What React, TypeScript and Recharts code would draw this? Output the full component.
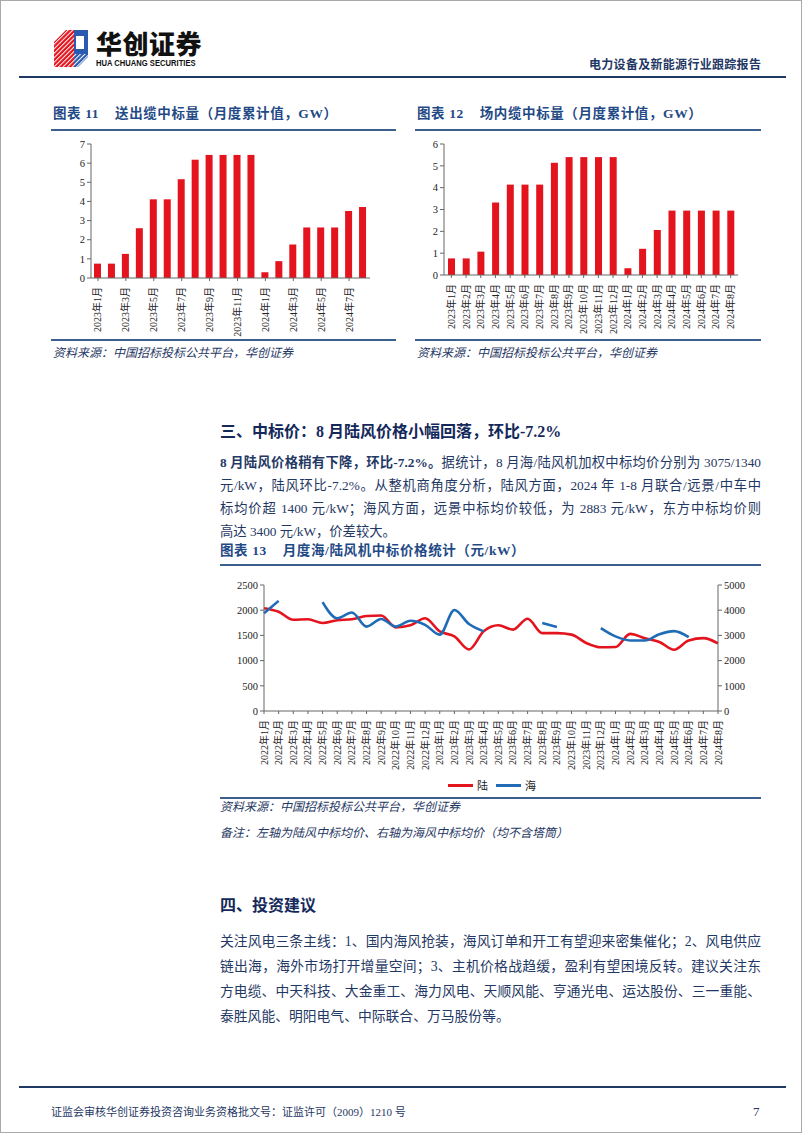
import React from 'react';
import { BarChart, Bar, LineChart, Line, XAxis, YAxis, Legend } from 'recharts';

const months11 = ['2023年1月','2023年2月','2023年3月','2023年4月','2023年5月','2023年6月','2023年7月','2023年8月','2023年9月','2023年10月','2023年11月','2023年12月','2024年1月','2024年2月','2024年3月','2024年4月','2024年5月','2024年6月','2024年7月','2024年8月'];
const exportCable = [0.75,0.75,1.26,2.6,4.11,4.11,5.16,6.18,6.43,6.43,6.43,6.43,0.3,0.88,1.75,2.64,2.64,2.64,3.5,3.71];
const arrayCable = [0.76,0.76,1.07,3.32,4.14,4.14,4.14,5.14,5.4,5.4,5.4,5.4,0.31,1.2,2.06,2.95,2.95,2.95,2.95,2.95];
const ticks11 = [0,1,2,3,4,5,6,7];
const ticks12 = [0,1,2,3,4,5,6];

const months13 = ['2022年1月','2022年2月','2022年3月','2022年4月','2022年5月','2022年6月','2022年7月','2022年8月','2022年9月','2022年10月','2022年11月','2022年12月','2023年1月','2023年2月','2023年3月','2023年4月','2023年5月','2023年6月','2023年7月','2023年8月','2023年9月','2023年10月','2023年11月','2023年12月','2024年1月','2024年2月','2024年3月','2024年4月','2024年5月','2024年6月','2024年7月','2024年8月'];
const onshore = [2040,1970,1810,1820,1745,1800,1820,1885,1895,1660,1700,1840,1580,1480,1220,1580,1700,1615,1830,1545,1545,1515,1350,1265,1270,1530,1445,1370,1215,1400,1445,1340];
const offshore: (number | null)[] = [3880,4370,null,null,4320,3680,3910,3350,3650,3350,3580,3420,3030,4010,3450,3160,null,null,null,3490,3330,null,null,3290,2960,2800,2800,3050,3170,2930,null,null];
const leftTicks13 = [0,500,1000,1500,2000,2500];
const rightTicks13 = [0,500,1000,1500,2000,2500,3000,3500,4000,4500,5000];
const seriesNames = ['陆','海'];

const RED = '#e3141d';
const BLUE = '#1f6bb5';
const NAVY = '#1f3864';
const TITLE = '#1f4a86';
const RULE = '#3d5f8e';
const FONT = '"Liberation Serif", "Noto Sans CJK SC", serif';

const data11 = months11.map((m, i) => ({ m, v: exportCable[i] }));
const data12 = months11.map((m, i) => ({ m, v: arrayCable[i] }));
const data13 = months13.map((m, i) => ({ m, on: onshore[i], off: offshore[i] }));

const RotTick = (props: any) => {
  const { x, y, payload } = props;
  return (
    <text x={x} y={y + 4} transform={`rotate(-90, ${x}, ${y + 4})`} textAnchor="end" dominantBaseline="central"
      fontSize={10} fontFamily={FONT} fill="#222">{payload.value}</text>
  );
};

const axisStyle = { stroke: '#666' };
const tickStyle = { fontSize: 10.5, fontFamily: FONT, fill: '#222' };

const abs = (left: number, top: number, extra: React.CSSProperties = {}): React.CSSProperties => ({
  position: 'absolute', left, top, ...extra,
});

const Logo = () => (
  <svg width={36} height={37} style={abs(53, 29)} viewBox="0 0 36 37">
    <defs>
      <pattern id="rs" width="3.2" height="3.2" patternUnits="userSpaceOnUse" patternTransform="rotate(45)">
        <rect width="3.2" height="3.2" fill="#e3141d" />
        <rect width="1" height="3.2" fill="#fff" />
      </pattern>
      <pattern id="bs" width="3.2" height="3.2" patternUnits="userSpaceOnUse" patternTransform="rotate(45)">
        <rect width="3.2" height="3.2" fill="#2a5bb0" />
        <rect width="1" height="3.2" fill="#fff" />
      </pattern>
    </defs>
    <polygon points="0,12 12,0 20,0 20,37 0,37" fill="url(#rs)" />
    <polygon points="20,0 34,0 34,24 20,24" fill="#2a5bb0" />
    <polygon points="20,24 34,24 34,27 24,37 20,37" fill="url(#bs)" />
    <rect x="22" y="6" width="8" height="13" fill="#fff" />
  </svg>
);

const lineStyle = (top: number, lines: React.ReactNode[], lh: number, fs: number) => (
  <div style={abs(219, top, { width: 541, fontFamily: FONT, fontSize: fs, lineHeight: `${lh}px`, color: NAVY })}>
    {lines.map((l, i) => (
      <div key={i} style={{ textAlign: 'justify', textAlignLast: i === lines.length - 1 ? 'left' : 'justify', height: lh, whiteSpace: 'nowrap' }}>{l}</div>
    ))}
  </div>
);

const titleStyle: React.CSSProperties = { fontFamily: FONT, fontWeight: 700, fontSize: 13.5, lineHeight: '18px', color: TITLE, whiteSpace: 'pre', letterSpacing: 0.6 };
const srcStyle: React.CSSProperties = { fontStyle: 'italic', fontSize: 12, lineHeight: '16px', color: NAVY };

export default function App() {
  return (
    <div style={{ position: 'absolute', left: 0, top: 0, width: 802, height: 1133, background: '#fff', border: '1px solid #aaa', boxSizing: 'border-box', overflow: 'hidden', fontFamily: FONT }}>
      <Logo />
      <div style={abs(95, 27, { fontFamily: '"Noto Sans CJK SC", sans-serif', fontWeight: 900, fontSize: 26, lineHeight: '30px', color: '#111', letterSpacing: 0.5 })}>华创证券</div>
      <div style={abs(95, 58, { fontFamily: '"Liberation Sans", sans-serif', fontWeight: 700, fontSize: 8.2, lineHeight: '10px', color: '#111', transform: 'scaleX(0.93)', transformOrigin: 'left' })}>HUA CHUANG SECURITIES</div>
      <div style={abs(588, 55, { fontFamily: '"Noto Sans CJK SC", sans-serif', fontWeight: 700, fontSize: 12, lineHeight: '16px', color: NAVY, letterSpacing: 0.3 })}>电力设备及新能源行业跟踪报告</div>
      <div style={abs(18, 75, { width: 767, height: 2, background: NAVY })} />

      {/* Chart 11 */}
      <div style={abs(52, 104, titleStyle)}>{'图表 11    送出缆中标量（月度累计值，GW）'}</div>
      <div style={abs(50, 128, { width: 345, height: 2, background: RULE })} />
      <div style={abs(40, 133)}>
        <BarChart width={335} height={205} data={data11} margin={{ top: 10, right: 6, bottom: 0, left: 0 }} barSize={7}>
          <XAxis dataKey="m" interval={1} tick={<RotTick />} height={61} axisLine={axisStyle} tickLine={{ stroke: '#666' }} tickSize={3} />
          <YAxis domain={[0, 7]} ticks={ticks11} width={50} axisLine={axisStyle} tickLine={{ stroke: '#666' }} tickSize={4} tick={tickStyle} />
          <Bar dataKey="v" fill={RED} isAnimationActive={false} />
        </BarChart>
      </div>
      <div style={abs(50, 338, { width: 345, height: 2, background: RULE })} />
      <div style={abs(52, 344, srcStyle)}>资料来源：中国招标投标公共平台，华创证券</div>

      {/* Chart 12 */}
      <div style={abs(416, 104, titleStyle)}>{'图表 12    场内缆中标量（月度累计值，GW）'}</div>
      <div style={abs(414, 128, { width: 346, height: 2, background: RULE })} />
      <div style={abs(393, 133)}>
        <BarChart width={350} height={204} data={data12} margin={{ top: 10, right: 6, bottom: 0, left: 0 }} barSize={7}>
          <XAxis dataKey="m" interval={0} tick={<RotTick />} height={63} axisLine={axisStyle} tickLine={{ stroke: '#666' }} tickSize={3} />
          <YAxis domain={[0, 6]} ticks={ticks12} width={50} axisLine={axisStyle} tickLine={{ stroke: '#666' }} tickSize={4} tick={tickStyle} />
          <Bar dataKey="v" fill={RED} isAnimationActive={false} />
        </BarChart>
      </div>
      <div style={abs(414, 338, { width: 346, height: 2, background: RULE })} />
      <div style={abs(416, 344, srcStyle)}>资料来源：中国招标投标公共平台，华创证券</div>

      {/* Section 3 */}
      <div style={abs(219, 420, { fontWeight: 700, fontSize: 16, lineHeight: '22px', color: '#14295a' })}>三、中标价：8 月陆风价格小幅回落，环比-7.2%</div>
      {lineStyle(449.5, [
        <><b>8 月陆风价格稍有下降，环比-7.2%。</b>据统计，8 月海/陆风机加权中标均价分别为 3075/1340</>,
        '元/kW，陆风环比-7.2%。从整机商角度分析，陆风方面，2024 年 1-8 月联合/远景/中车中',
        '标均价超 1400 元/kW；海风方面，远景中标均价较低，为 2883 元/kW，东方中标均价则',
        '高达 3400 元/kW，价差较大。',
      ], 23, 13.3)}

      {/* Chart 13 */}
      <div style={abs(219, 541, titleStyle)}>{'图表 13    月度海/陆风机中标价格统计（元/kW）'}</div>
      <div style={abs(219, 563, { width: 541, height: 2, background: RULE })} />
      <div style={abs(213, 574)}>
        <LineChart width={550} height={226} data={data13} margin={{ top: 10, right: 0, bottom: 0, left: 0 }}>
          <XAxis dataKey="m" interval={0} tick={<RotTick />} height={66} axisLine={axisStyle} tickLine={{ stroke: '#666' }} tickSize={3} />
          <YAxis yAxisId="l" domain={[0, 2500]} ticks={leftTicks13} width={50} axisLine={axisStyle} tickLine={{ stroke: '#666' }} tickSize={4} tick={tickStyle} />
          <YAxis yAxisId="r" orientation="right" domain={[0, 5000]} ticks={rightTicks13} width={46} axisLine={axisStyle} tickLine={{ stroke: '#666' }} tickSize={4} tick={tickStyle} />
          <Line yAxisId="l" type="monotone" dataKey="on" name={seriesNames[0]} stroke={RED} strokeWidth={2.6} dot={false} isAnimationActive={false} />
          <Line yAxisId="r" type="monotone" dataKey="off" name={seriesNames[1]} stroke={BLUE} strokeWidth={2.6} dot={false} connectNulls={false} isAnimationActive={false} />
          <Legend verticalAlign="bottom" height={24} content={() => (
            <div style={{ display: 'flex', justifyContent: 'center', alignItems: 'center', fontFamily: FONT, fontSize: 11, color: '#222', paddingLeft: 6 }}>
              <span style={{ display: 'inline-block', width: 25, height: 3, background: RED, marginRight: 4 }} />
              <span style={{ marginRight: 8 }}>{seriesNames[0]}</span>
              <span style={{ display: 'inline-block', width: 25, height: 3, background: BLUE, marginRight: 4 }} />
              <span>{seriesNames[1]}</span>
            </div>
          )} />
        </LineChart>
      </div>
      <div style={abs(219, 796, { width: 541, height: 2, background: RULE })} />
      <div style={abs(219, 798, srcStyle)}>资料来源：中国招标投标公共平台，华创证券</div>
      <div style={abs(219, 824, srcStyle)}>备注：左轴为陆风中标均价、右轴为海风中标均价（均不含塔筒）</div>

      {/* Section 4 */}
      <div style={abs(219, 894, { fontWeight: 700, fontSize: 16, lineHeight: '22px', color: '#14295a' })}>四、投资建议</div>
      {lineStyle(927.5, [
        '关注风电三条主线：1、国内海风抢装，海风订单和开工有望迎来密集催化；2、风电供应',
        '链出海，海外市场打开增量空间；3、主机价格战趋缓，盈利有望困境反转。建议关注东',
        '方电缆、中天科技、大金重工、海力风电、天顺风能、亨通光电、运达股份、三一重能、',
        '泰胜风能、明阳电气、中际联合、万马股份等。',
      ], 25, 13.8)}

      {/* Footer */}
      <div style={abs(18, 1085, { width: 767, height: 2, background: NAVY })} />
      <div style={abs(50, 1103, { fontSize: 11, lineHeight: '16px', color: NAVY })}>证监会审核华创证券投资咨询业务资格批文号：证监许可（2009）1210 号</div>
      <div style={abs(752, 1102, { fontSize: 13, lineHeight: '18px', color: NAVY })}>7</div>
    </div>
  );
}
